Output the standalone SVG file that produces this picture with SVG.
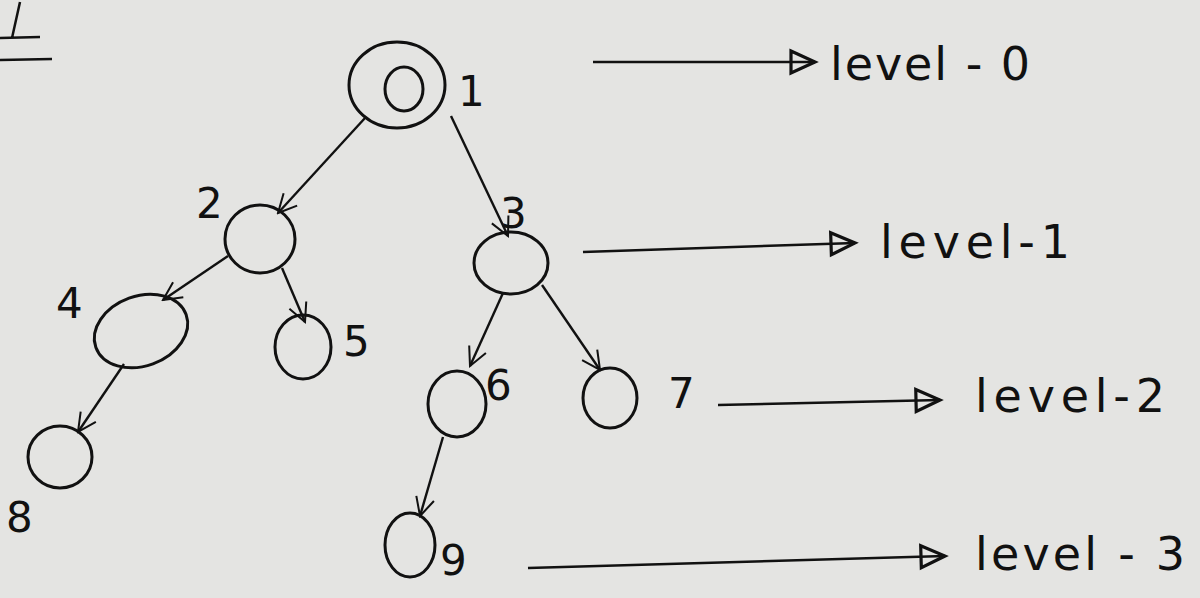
<svg xmlns="http://www.w3.org/2000/svg" width="1200" height="598" viewBox="0 0 1200 598">
<defs>
<marker id="v" viewBox="0 0 12 12" refX="11" refY="6" markerWidth="22" markerHeight="22" markerUnits="userSpaceOnUse" orient="auto">
<path d="M1,1 L11,6 L1,11" fill="none" stroke="#111" stroke-width="1.1"/>
</marker>
<marker id="tri" viewBox="0 0 14 14" refX="13" refY="7" markerWidth="34" markerHeight="28" markerUnits="userSpaceOnUse" orient="auto">
<polygon points="1,1.5 13,7 1,12.5" fill="none" stroke="#111" stroke-width="1.6"/>
</marker>
<style>
.n{fill:none;stroke:#111;stroke-width:3}
.e{fill:none;stroke:#111;stroke-width:2.4;marker-end:url(#v)}
.lv{fill:none;stroke:#111;stroke-width:2.5;marker-end:url(#tri)}
.lb{font-family:"DejaVu Sans",sans-serif;font-size:42px;fill:#111}
.lt{font-family:"DejaVu Sans",sans-serif;font-size:46px;fill:#111}
</style>
</defs>
<rect width="1200" height="598" fill="#e4e4e2"/>
<g id="corner"><path d="M20,2 L12,38 M0,38 L40,37 M0,60 L52,59" fill="none" stroke="#111" stroke-width="2.5"/></g>
<g id="connectors">
<line class="e" x1="365" y1="118" x2="278" y2="213"/>
<line class="e" x1="451" y1="116" x2="508" y2="236"/>
<line class="e" x1="228" y1="256" x2="163" y2="300"/>
<line class="e" x1="282" y1="268" x2="305" y2="322"/>
<line class="e" x1="503" y1="293" x2="470" y2="366"/>
<line class="e" x1="542" y1="285" x2="600" y2="370"/>
<line class="e" x1="124" y1="364" x2="78" y2="432"/>
<line class="e" x1="443" y1="437" x2="420" y2="516"/>
<line class="lv" x1="593" y1="62" x2="815" y2="62"/>
<line class="lv" x1="583" y1="252" x2="855" y2="243"/>
<line class="lv" x1="718" y1="405" x2="940" y2="400"/>
<line class="lv" x1="528" y1="568" x2="945" y2="556"/>
</g>
<g id="node1"><ellipse class="n" cx="397" cy="85" rx="48" ry="43"/><ellipse class="n" cx="404" cy="89" rx="19" ry="22"/><text class="lb" x="458" y="106">1</text></g>
<g id="node2"><ellipse class="n" cx="260" cy="239" rx="35" ry="34"/><text class="lb" x="196" y="218">2</text></g>
<g id="node3"><ellipse class="n" cx="511" cy="263" rx="37" ry="31"/><text class="lb" x="500" y="228">3</text></g>
<g id="node4"><ellipse class="n" cx="141" cy="331" rx="48" ry="35" transform="rotate(-20 141 331)"/><text class="lb" x="56" y="318">4</text></g>
<g id="node5"><ellipse class="n" cx="303" cy="347" rx="28" ry="32"/><text class="lb" x="343" y="356">5</text></g>
<g id="node6"><ellipse class="n" cx="457" cy="404" rx="29" ry="33"/><text class="lb" x="485" y="400">6</text></g>
<g id="node7"><ellipse class="n" cx="610" cy="398" rx="27" ry="30"/><text class="lb" x="668" y="408">7</text></g>
<g id="node8"><ellipse class="n" cx="60" cy="457" rx="32" ry="31"/><text class="lb" x="6" y="532">8</text></g>
<g id="node9"><ellipse class="n" cx="410" cy="545" rx="25" ry="32"/><text class="lb" x="440" y="575">9</text></g>
<g id="levels">
<text class="lt" x="830" y="80" textLength="200" lengthAdjust="spacing">level - 0</text>
<text class="lt" x="880" y="258" textLength="190" lengthAdjust="spacing">level-1</text>
<text class="lt" x="975" y="412" textLength="190" lengthAdjust="spacing">level-2</text>
<text class="lt" x="975" y="570" textLength="210" lengthAdjust="spacing">level - 3</text>
</g>
</svg>
